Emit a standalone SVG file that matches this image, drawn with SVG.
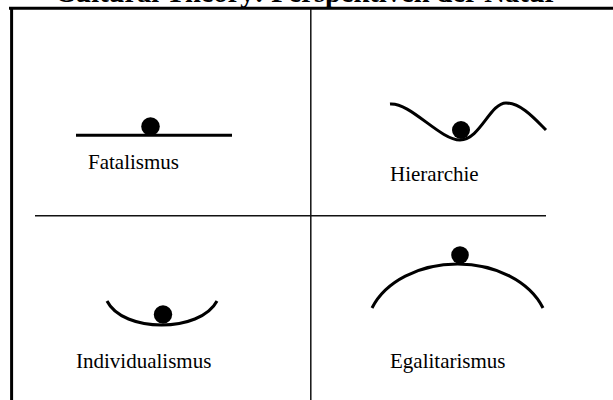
<svg xmlns="http://www.w3.org/2000/svg" width="613" height="400" viewBox="0 0 613 400">
<style>
  .lbl { font-family: "Liberation Serif", "Times New Roman", serif; font-size: 21px; fill: #000; }
  .title { font-family: "Liberation Serif", "Times New Roman", serif; font-size: 28.5px; font-weight: bold; fill: #000; }
  .frame { stroke: #000; stroke-width: 3; fill: none; }
  .grid { stroke: #111; stroke-width: 1.5; fill: none; }
  .curve { stroke: #000; stroke-width: 3; fill: none; }
  .ball { fill: #000; }
</style>
<rect width="613" height="400" fill="#fff"/>
<text class="title" x="306" y="1.8" text-anchor="middle">Cultural Theory: Perspektiven der Natur</text>
<g id="frame">
  <line class="frame" x1="9" y1="8.3" x2="613" y2="8.3"/>
  <line class="frame" x1="11.6" y1="8" x2="11.6" y2="400"/>
  <line class="grid" x1="310.8" y1="9" x2="310.8" y2="400"/>
  <line class="grid" x1="35" y1="215.8" x2="546" y2="215.8"/>
</g>
<g id="fatalismus">
  <line class="curve" x1="76" y1="135.3" x2="232" y2="135.3"/>
  <circle class="ball" cx="150.5" cy="126.5" r="9.3"/>
  <text class="lbl" x="88" y="168.5">Fatalismus</text>
</g>
<g id="hierarchie">
  <path class="curve" d="M390,104 C410,102 440,140 460,140 C480,140 490,103 506,103 C521,103 535,119 546,130"/>
  <circle class="ball" cx="461" cy="130" r="9"/>
  <text class="lbl" x="390" y="180.5">Hierarchie</text>
</g>
<g id="individualismus">
  <path class="curve" d="M107,301 C123,333 200,333 217,301"/>
  <circle class="ball" cx="163" cy="314.5" r="9.2"/>
  <text class="lbl" x="76" y="368">Individualismus</text>
</g>
<g id="egalitarismus">
  <path class="curve" d="M372,308 A91,67 0 0,1 543,308"/>
  <circle class="ball" cx="460" cy="255" r="8.8"/>
  <text class="lbl" x="390" y="368">Egalitarismus</text>
</g>
</svg>
